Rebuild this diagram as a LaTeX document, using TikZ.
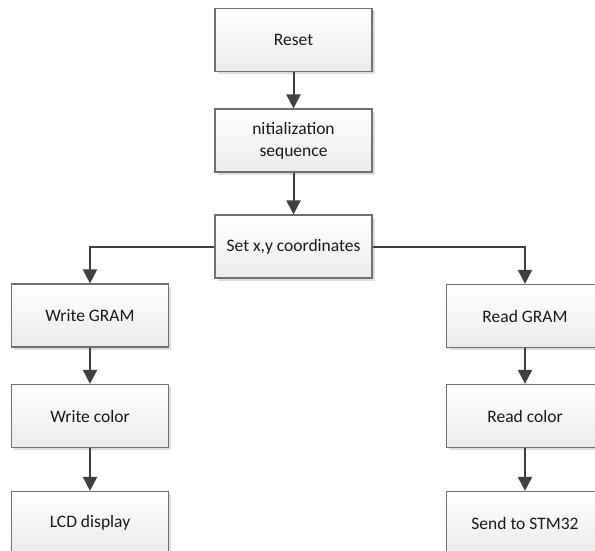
\documentclass[tikz,border=0pt]{standalone}
\usepackage{fontspec}
\setmainfont{Carlito}
\usetikzlibrary{arrows.meta,shadows}
\definecolor{boxgray}{HTML}{707070}
\definecolor{arrgray}{HTML}{404040}
\begin{document}
\begin{tikzpicture}[x=1pt,y=-1pt,
  box/.style={draw=boxgray, line width=1.2pt, top color=white, bottom color=black!8,
    minimum width=157pt, minimum height=63pt, inner sep=0pt, align=center,
    font=\fontsize{17.5}{22}\selectfont, text=black!90,
    drop shadow={shadow xshift=2.5pt, shadow yshift=-2.5pt, fill=black!22, opacity=0.6}},
  arr/.style={draw=arrgray, line width=2pt, -{Triangle[length=14pt,width=14pt]}}]
\useasboundingbox (0,0) rectangle (595,550);
\clip (0,0) rectangle (595,550);
\node[box] (reset) at (293.5,40) {Reset};
\node[box] (init) at (293.5,140.5) {nitialization\\sequence};
\node[box] (set) at (293.5,246.5) {Set x,y coordinates};
\node[box] (wg) at (90,315.5) {Write GRAM};
\node[box] (wc) at (90,416) {Write color};
\node[box] (lcd) at (90,523) {LCD display};
\node[box] (rg) at (525,316) {Read GRAM};
\node[box] (rc) at (525,416) {Read color};
\node[box] (send) at (525,523) {Send to STM32};
\draw[arr] (reset) -- (init);
\draw[arr] (init) -- (set);
\draw[arr] (set.west) -| (wg.north);
\draw[arr] (set.east) -| (rg.north);
\draw[arr] (wg) -- (wc);
\draw[arr] (wc) -- (lcd);
\draw[arr] (rg) -- (rc);
\draw[arr] (rc) -- (send);
\end{tikzpicture}
\end{document}
